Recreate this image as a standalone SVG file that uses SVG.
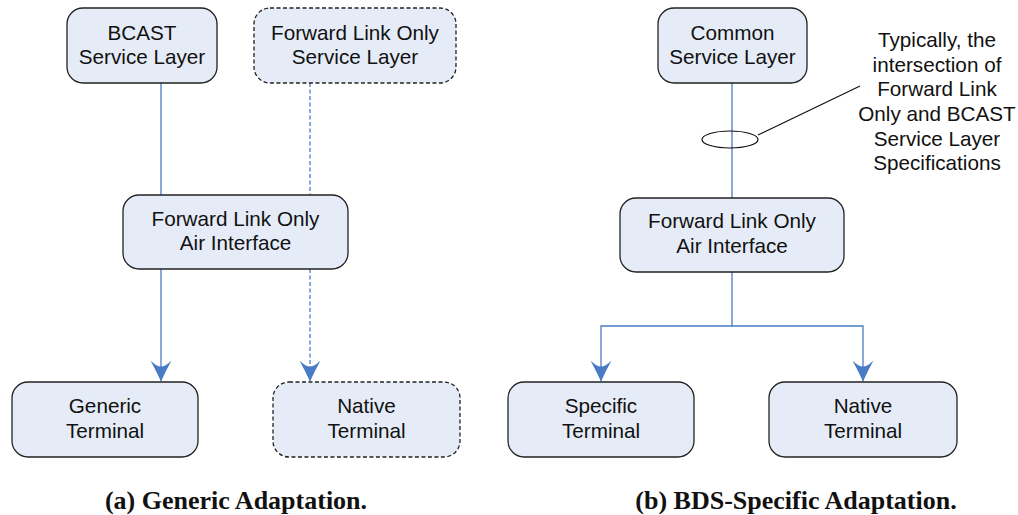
<svg xmlns="http://www.w3.org/2000/svg" width="1018" height="515" viewBox="0 0 1018 515">
<style>
.box{fill:#E6ECF7;stroke:#222;stroke-width:1.3}
.dash{stroke-dasharray:4 2.5}
.t{font-family:"Liberation Sans",Arial,sans-serif;font-size:20.7px;fill:#111;text-anchor:middle}
.cap{font-family:"Liberation Serif","Times New Roman",serif;font-size:26px;font-weight:bold;fill:#111;text-anchor:middle}
.ln{fill:none;stroke:#4A7CC6;stroke-width:1.3}
</style>
<defs>
<marker id="ah" viewBox="0 0 21 21" refX="20.5" refY="10.5" markerWidth="21" markerHeight="21" markerUnits="userSpaceOnUse" orient="auto">
<path d="M21,10.5 Q11,6 0,0 Q6,6 6,10.5 Q6,15 0,21 Q11,15 21,10.5 Z" fill="#4A7CC6"/>
</marker>
</defs>
<g id="connectors">
<line class="ln" x1="161" y1="83" x2="161" y2="195"/>
<line class="ln" x1="161" y1="269" x2="161" y2="381" marker-end="url(#ah)"/>
<line class="ln dash" x1="310" y1="83" x2="310" y2="195"/>
<line class="ln dash" x1="310" y1="269" x2="310" y2="381" marker-end="url(#ah)"/>
<line class="ln" x1="732" y1="83" x2="732" y2="198"/>
<polyline class="ln" points="732,272 732,326 601,326 601,381" marker-end="url(#ah)"/>
<polyline class="ln" points="732,326 863,326 863,381" marker-end="url(#ah)"/>
<ellipse cx="730" cy="139.5" rx="28" ry="8.5" fill="none" stroke="#111" stroke-width="1.2"/>
<line x1="758" y1="135" x2="860" y2="86" stroke="#111" stroke-width="1.2"/>
</g>
<g id="bcast">
<rect class="box" x="67" y="8" width="150" height="75" rx="16"/>
<text class="t" x="142" y="40">BCAST</text>
<text class="t" x="142" y="64">Service Layer</text>
</g>
<g id="flo-service">
<rect class="box dash" x="254" y="8" width="202" height="75" rx="16"/>
<text class="t" x="355" y="40">Forward Link Only</text>
<text class="t" x="355" y="64">Service Layer</text>
</g>
<g id="flo-air-a">
<rect class="box" x="123" y="195" width="225" height="74" rx="16"/>
<text class="t" x="235.5" y="226">Forward Link Only</text>
<text class="t" x="235.5" y="250">Air Interface</text>
</g>
<g id="generic-terminal">
<rect class="box" x="12" y="382" width="186" height="75" rx="16"/>
<text class="t" x="105" y="413">Generic</text>
<text class="t" x="105" y="438">Terminal</text>
</g>
<g id="native-terminal-a">
<rect class="box dash" x="273" y="382" width="187" height="75" rx="16"/>
<text class="t" x="366.5" y="413">Native</text>
<text class="t" x="366.5" y="438">Terminal</text>
</g>
<g id="common">
<rect class="box" x="658" y="8" width="149" height="75" rx="16"/>
<text class="t" x="732.5" y="40">Common</text>
<text class="t" x="732.5" y="64">Service Layer</text>
</g>
<g id="note">
<text class="t" x="937" y="47">Typically, the</text>
<text class="t" x="937" y="72">intersection of</text>
<text class="t" x="937" y="96">Forward Link</text>
<text class="t" x="937" y="121">Only and BCAST</text>
<text class="t" x="937" y="146">Service Layer</text>
<text class="t" x="937" y="170">Specifications</text>
</g>
<g id="flo-air-b">
<rect class="box" x="620" y="198" width="224" height="74" rx="16"/>
<text class="t" x="732" y="228">Forward Link Only</text>
<text class="t" x="732" y="253">Air Interface</text>
</g>
<g id="specific-terminal">
<rect class="box" x="508" y="382" width="186" height="75" rx="16"/>
<text class="t" x="601" y="413">Specific</text>
<text class="t" x="601" y="438">Terminal</text>
</g>
<g id="native-terminal-b">
<rect class="box" x="769" y="382" width="188" height="75" rx="16"/>
<text class="t" x="863" y="413">Native</text>
<text class="t" x="863" y="438">Terminal</text>
</g>
<g id="captions">
<text class="cap" x="236" y="509">(a) Generic Adaptation.</text>
<text class="cap" x="796" y="509">(b) BDS-Specific Adaptation.</text>
</g>
</svg>
